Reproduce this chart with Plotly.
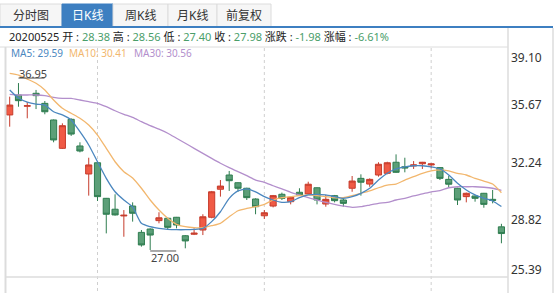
import plotly.graph_objects as go

# ---------------- data ----------------
info_date = "20200525"
info_open, info_high, info_low, info_close = "28.38", "28.56", "27.40", "27.98"
info_change, info_pct = "-1.98", "-6.61%"

tab_labels = ["分时图", "日K线", "周K线", "月K线", "前复权"]
selected_tab = 1

opens = [35.05, 36.24, 35.57, 36.34, 35.74, 34.75, 33.06, 34.79, 33.20, 31.53,
         32.20, 30.08, 29.43, 29.03, 29.62, 28.05, 28.25, 28.75, 28.89, 28.95,
         27.85, 27.94, 28.19, 28.95, 30.62, 31.47, 31.01, 30.68, 30.04, 29.04,
         29.62, 30.32, 29.88, 30.44, 30.34, 30.71, 29.74, 30.24, 29.98, 30.68,
         31.27, 30.93, 31.47, 31.57, 32.23, 31.96, 32.01, 32.14, 32.07, 31.91,
         31.21, 30.68, 30.18, 30.22, 30.38, 30.02, 28.38]
highs = [36.14, 36.95, 35.82, 36.54, 35.88, 34.78, 34.55, 34.85, 33.42, 32.50,
         32.22, 30.10, 30.32, 29.38, 29.84, 28.19, 28.29, 29.25, 28.93, 28.97,
         27.89, 28.29, 29.13, 30.52, 31.17, 31.71, 31.03, 30.71, 30.08, 29.38,
         30.28, 30.42, 30.18, 30.68, 31.07, 30.73, 30.28, 30.28, 30.04, 31.41,
         31.51, 31.27, 32.23, 32.26, 32.70, 32.50, 32.30, 32.25, 32.15, 31.93,
         31.43, 30.71, 30.42, 30.24, 30.40, 30.58, 28.56]
lows = [34.35, 35.54, 34.85, 35.40, 35.09, 33.42, 33.02, 33.80, 32.82, 30.24,
        29.92, 27.99, 29.05, 27.79, 28.69, 27.20, 27.00, 28.59, 28.19, 28.29,
        27.10, 27.89, 27.89, 28.89, 30.18, 30.52, 30.47, 29.98, 29.13, 28.85,
        29.54, 29.98, 29.72, 30.24, 30.28, 29.72, 29.58, 29.84, 29.58, 30.47,
        30.24, 30.77, 31.37, 31.51, 31.60, 31.63, 31.83, 31.83, 31.87, 31.17,
        30.71, 29.68, 29.84, 29.88, 29.52, 29.78, 27.40]
closes = [35.64, 35.90, 35.60, 36.20, 35.24, 33.56, 34.41, 33.91, 32.90, 32.07,
          30.18, 29.13, 29.09, 29.07, 29.19, 27.30, 27.89, 28.92, 28.35, 28.49,
          27.54, 28.00, 28.98, 30.47, 30.81, 31.13, 30.68, 30.12, 29.58, 29.22,
          30.24, 30.08, 30.14, 30.28, 30.92, 29.98, 30.02, 29.94, 29.78, 31.11,
          31.04, 31.21, 32.11, 32.20, 31.63, 31.89, 32.07, 32.23, 32.13, 31.27,
          30.92, 29.98, 30.38, 30.08, 29.72, 29.96, 27.98]

ma5 = [36.54, 36.06, 35.82, 35.70, 35.64, 35.24, 35.05, 34.75, 34.05, 33.26,
       32.26, 31.27, 30.47, 29.98, 29.56, 28.59, 28.39, 28.29, 28.23, 28.21,
       28.21, 28.23, 28.29, 28.69, 29.28, 30.08, 30.52, 30.64, 30.46, 30.18,
       29.98, 29.84, 29.88, 30.12, 30.28, 30.32, 30.28, 30.18, 30.08, 30.18,
       30.38, 30.68, 31.17, 31.57, 31.83, 31.96, 32.02, 32.02, 31.96, 31.83,
       31.47, 30.98, 30.58, 30.28, 30.08, 29.92, 29.59]
ma10 = [37.53, 37.43, 37.19, 36.94, 36.54, 35.94, 35.45, 35.15, 34.85, 34.45,
        33.85, 33.06, 32.26, 31.67, 31.29, 30.68, 29.98, 29.38, 28.89, 28.53,
        28.39, 28.33, 28.33, 28.45, 28.59, 28.98, 29.34, 29.48, 29.58, 29.72,
        29.98, 30.12, 30.18, 30.24, 30.28, 30.24, 30.18, 30.12, 30.12, 30.24,
        30.38, 30.52, 30.71, 30.87, 30.93, 31.17, 31.37, 31.57, 31.71, 31.77,
        31.71, 31.57, 31.47, 31.27, 31.11, 30.93, 30.41]
ma30 = [36.28, 36.24, 36.24, 36.24, 36.20, 36.10, 36.04, 36.04, 35.94, 35.84,
        35.74, 35.54, 35.30, 35.09, 34.90, 34.65, 34.41, 34.20, 33.96, 33.66,
        33.36, 33.06, 32.76, 32.46, 32.17, 31.91, 31.67, 31.43, 31.17, 31.03,
        30.83, 30.64, 30.44, 30.28, 30.12, 29.98, 29.84, 29.72, 29.62, 29.54,
        29.58, 29.68, 29.78, 29.84, 29.98, 30.08, 30.22, 30.34, 30.47, 30.54,
        30.71, 30.77, 30.77, 30.77, 30.74, 30.68, 30.56]

ytick_vals = [39.10, 35.67, 32.24, 28.82, 25.39]
month_breaks = [10, 29, 48]

# ---------------- style ----------------
W, H = 558, 293
L, R, T, B = 5, 508, 47, 277
FONT = "Noto Sans, Noto Sans CJK SC, sans-serif"
RED_FILL, RED_LINE = "#f05a45", "#c63c2c"
GREEN_FILL, GREEN_LINE = "#5c9f78", "#2f7d50"
C_MA5, C_MA10, C_MA30 = "#4b87bf", "#f2b76e", "#b38fcc"
BLUE = "#3d7fc1"
VAL_GREEN = "#4a9e6a"
BORDER = "#dcdcdc"


def px(x):
    return (x - L) / (R - L)


def py(y):
    return (B - y) / (B - T)


n = len(opens)
xs = list(range(n))

fig = go.Figure()
fig.add_trace(go.Candlestick(
    x=xs, open=opens, high=highs, low=lows, close=closes,
    increasing=dict(fillcolor=RED_FILL, line=dict(color=RED_LINE, width=1)),
    decreasing=dict(fillcolor=GREEN_FILL, line=dict(color=GREEN_LINE, width=1)),
    whiskerwidth=0, hoverinfo="skip", showlegend=False))
for vals, col in [(ma30, C_MA30), (ma10, C_MA10), (ma5, C_MA5)]:
    fig.add_trace(go.Scatter(x=xs, y=vals, mode="lines", hoverinfo="skip",
                             showlegend=False,
                             line=dict(color=col, width=1.3, shape="spline", smoothing=0.6)))

shapes = []
annotations = []

# tabs
tab_edges = [0, 62, 113, 168, 217, 271]
for i, lab in enumerate(tab_labels):
    sel = i == selected_tab
    shapes.append(dict(type="rect", xref="paper", yref="paper",
                       x0=px(tab_edges[i]), x1=px(tab_edges[i + 1]), y0=py(27), y1=py(4),
                       fillcolor=BLUE if sel else "#f6f6f6",
                       line=dict(color=BLUE if sel else BORDER, width=1), layer="above"))
    annotations.append(dict(xref="paper", yref="paper",
                            x=px((tab_edges[i] + tab_edges[i + 1]) / 2), y=py(16),
                            text=lab, showarrow=False, xanchor="center", yanchor="middle",
                            font=dict(family=FONT, size=12, color="white" if sel else "#333")))
# frame lines
shapes += [
    dict(type="line", xref="paper", yref="paper", x0=px(0), x1=px(553), y0=py(27), y1=py(27),
         line=dict(color=BLUE, width=2), layer="above"),
    dict(type="line", xref="paper", yref="paper", x0=px(0), x1=px(R), y0=py(47), y1=py(47),
         line=dict(color=BORDER, width=1)),
    dict(type="line", xref="paper", yref="paper", x0=px(R), x1=px(R), y0=py(28), y1=py(H),
         line=dict(color=BORDER, width=1.5)),
    dict(type="line", xref="paper", yref="paper", x0=px(553), x1=px(553), y0=py(28), y1=py(H),
         line=dict(color=BORDER, width=1.5)),
    dict(type="line", xref="paper", yref="paper", x0=px(5.5), x1=px(5.5), y0=py(47), y1=py(H),
         line=dict(color=BORDER, width=2)),
    dict(type="line", xref="paper", yref="paper", x0=px(L), x1=px(R), y0=0, y1=0,
         line=dict(color=BORDER, width=1.5)),
]
for mb in month_breaks:
    shapes.append(dict(type="line", xref="x", yref="paper", x0=mb, x1=mb, y0=py(48), y1=py(H),
                       line=dict(color="#cfcfcf", width=1, dash="dot"), layer="below"))

# high / low markers
hi_idx = max(range(n), key=lambda i: highs[i])
lo_idx = min(range(n), key=lambda i: lows[i])
annotations.append(dict(x=hi_idx, y=highs[hi_idx], text=f"{highs[hi_idx]:.2f}", showarrow=False,
                        xanchor="left", yanchor="middle", yshift=10, xshift=-1,
                        font=dict(family=FONT, size=11, color="#444")))
shapes.append(dict(type="line", xref="x", yref="y", xsizemode="pixel", ysizemode="pixel",
                   xanchor=hi_idx, yanchor=highs[hi_idx], x0=0, x1=26, y0=5, y1=5,
                   line=dict(color="#555", width=1)))
annotations.append(dict(x=lo_idx, y=lows[lo_idx], text=f"{lows[lo_idx]:.2f}", showarrow=False,
                        xanchor="left", yanchor="middle", yshift=-8, xshift=-1,
                        font=dict(family=FONT, size=11, color="#444")))
shapes.append(dict(type="line", xref="x", yref="y", xsizemode="pixel", ysizemode="pixel",
                   xanchor=lo_idx, yanchor=lows[lo_idx], x0=0, x1=26, y0=-1, y1=-1,
                   line=dict(color="#555", width=1)))

# info row
def g(v):
    return f"<span style='color:{VAL_GREEN}'>{v}</span>"

info = (f"{info_date} 开 : {g(info_open)} 高 : {g(info_high)} 低 : {g(info_low)} "
        f"收 : {g(info_close)} 涨跌 : {g(info_change)} 涨幅 : {g(info_pct)}")
annotations.append(dict(xref="paper", yref="paper", x=px(7), y=py(36), text=info,
                        showarrow=False, xanchor="left", yanchor="middle",
                        font=dict(family=FONT, size=11, color="#222")))
# MA legend row
for txt, col, xpos in [(f"MA5: {ma5[-1]:.2f}", C_MA5, 9),
                       (f"MA10: {ma10[-1]:.2f}", C_MA10, 67),
                       (f"MA30: {ma30[-1]:.2f}", C_MA30, 132)]:
    annotations.append(dict(xref="paper", yref="paper", x=px(xpos), y=py(53), text=txt,
                            showarrow=False, xanchor="left", yanchor="middle",
                            font=dict(family=FONT, size=10, color=col)))
# y labels
for i, v in enumerate(ytick_vals):
    shift = -10 if i == 0 else (8 if i == len(ytick_vals) - 1 else 0)
    annotations.append(dict(xref="paper", yref="y", x=1, y=v, text=f"{v:.2f}", showarrow=False,
                            xanchor="left", yanchor="middle", xshift=1, yshift=shift,
                            font=dict(family=FONT, size=12, color="#333")))

fig.update_layout(
    width=W, height=H,
    margin=dict(l=L, r=W - R, t=T, b=H - B, pad=0),
    paper_bgcolor="white", plot_bgcolor="white",
    xaxis=dict(range=[-0.535, 56.75], visible=False, fixedrange=True,
               rangeslider=dict(visible=False)),
    yaxis=dict(range=[ytick_vals[-1], ytick_vals[0]], visible=False, fixedrange=True),
    boxgap=0.3, boxgroupgap=0,
    shapes=shapes, annotations=annotations,
    showlegend=False,
)
fig.write_html("out.html", config={"displayModeBar": False})
